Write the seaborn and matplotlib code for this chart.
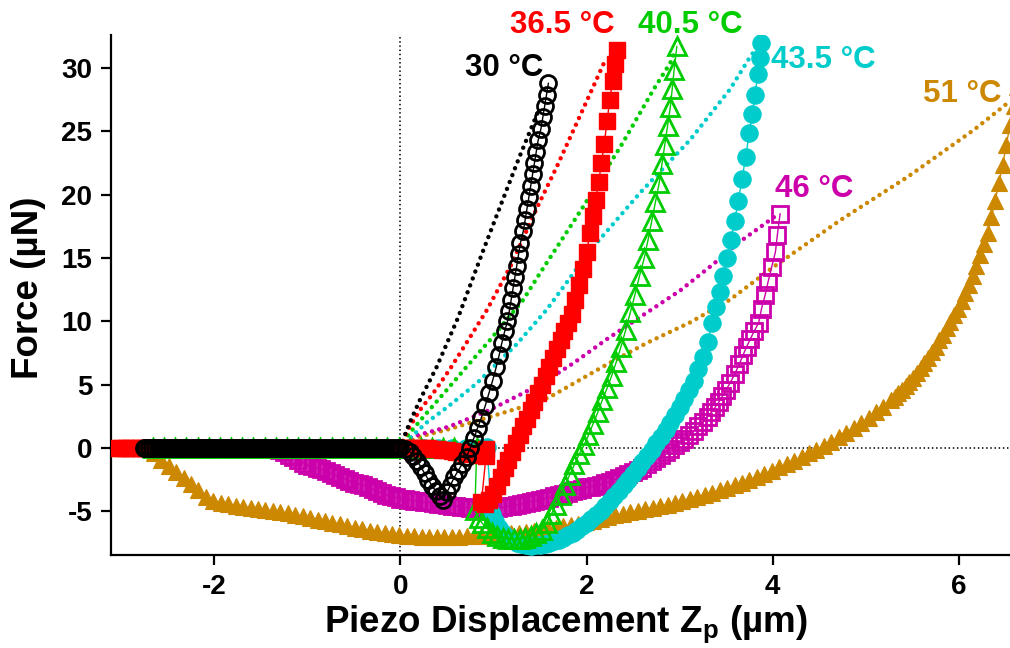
import matplotlib
matplotlib.use("Agg")
import matplotlib.pyplot as plt
import pandas as pd
import seaborn as sns

# Retraction branches: (piezo displacement Zp in um, force in uN), in acquisition order
ret_30 = [
    (1.59, 28.8), (1.57, 27.9), (1.55, 27.0), (1.53, 26.1), (1.51, 25.2), (1.48, 24.3),
    (1.46, 23.4), (1.44, 22.5), (1.42, 21.6), (1.40, 20.7), (1.38, 19.8), (1.36, 18.9),
    (1.34, 18.0), (1.32, 17.1), (1.29, 16.2), (1.27, 15.3), (1.25, 14.4), (1.23, 13.5),
    (1.21, 12.6), (1.19, 11.7), (1.17, 10.8), (1.15, 10.0), (1.12, 9.2), (1.09, 8.3),
    (1.06, 7.3), (1.03, 6.4), (0.99, 5.3), (0.95, 4.3), (0.91, 3.3), (0.87, 2.4),
    (0.83, 1.6), (0.79, 0.8), (0.75, 0.0), (0.71, -0.7), (0.66, -1.3), (0.62, -1.8),
    (0.58, -2.3), (0.54, -2.9), (0.50, -3.5), (0.46, -4.1), (0.42, -3.8), (0.38, -3.4),
    (0.34, -3.0), (0.30, -2.5), (0.26, -2.0), (0.22, -1.5), (0.18, -1.0), (0.14, -0.6),
    (0.10, -0.3), (0.05, -0.1), (0.00, 0.0), (-0.03, 0.0), (-0.06, 0.0), (-0.09, 0.0),
    (-0.12, 0.0), (-0.15, 0.0), (-0.18, 0.0), (-0.21, 0.0), (-0.24, 0.0), (-0.27, 0.0),
    (-0.30, 0.0), (-0.33, 0.0), (-0.36, 0.0), (-0.39, 0.0), (-0.42, 0.0), (-0.45, 0.0),
    (-0.48, 0.0), (-0.51, 0.0), (-0.54, 0.0), (-0.57, 0.0), (-0.60, 0.0), (-0.63, 0.0),
    (-0.66, 0.0), (-0.69, 0.0), (-0.72, 0.0), (-0.75, 0.0), (-0.78, 0.0), (-0.81, 0.0),
    (-0.84, 0.0), (-0.87, 0.0), (-0.90, 0.0), (-0.93, 0.0), (-0.96, 0.0), (-0.99, 0.0),
    (-1.02, 0.0), (-1.05, 0.0), (-1.08, 0.0), (-1.11, 0.0), (-1.14, 0.0), (-1.17, 0.0),
    (-1.20, 0.0), (-1.23, 0.0), (-1.26, 0.0), (-1.29, 0.0), (-1.32, 0.0), (-1.35, 0.0),
    (-1.38, 0.0), (-1.41, 0.0), (-1.44, 0.0), (-1.47, 0.0), (-1.50, 0.0), (-1.53, 0.0),
    (-1.56, 0.0), (-1.59, 0.0), (-1.62, 0.0), (-1.65, 0.0), (-1.68, 0.0), (-1.71, 0.0),
    (-1.74, 0.0), (-1.77, 0.0), (-1.80, 0.0), (-1.83, 0.0), (-1.86, 0.0), (-1.89, 0.0),
    (-1.92, 0.0), (-1.95, 0.0), (-1.98, 0.0), (-2.01, 0.0), (-2.04, 0.0), (-2.07, 0.0),
    (-2.10, 0.0), (-2.13, 0.0), (-2.16, 0.0), (-2.19, 0.0), (-2.22, 0.0), (-2.25, 0.0),
    (-2.28, 0.0), (-2.31, 0.0), (-2.34, 0.0), (-2.37, 0.0), (-2.40, 0.0), (-2.43, 0.0),
    (-2.46, 0.0), (-2.49, 0.0), (-2.52, 0.0), (-2.55, 0.0), (-2.58, 0.0), (-2.61, 0.0),
    (-2.64, 0.0), (-2.67, 0.0), (-2.70, 0.0), (-2.73, 0.0), (-2.76, 0.0),
]

ret_365 = [
    (2.33, 31.4), (2.31, 30.3), (2.28, 29.0), (2.25, 27.5), (2.22, 25.8), (2.19, 24.0),
    (2.16, 22.5), (2.13, 21.0), (2.10, 19.6), (2.07, 18.3), (2.04, 17.0), (2.00, 15.5),
    (1.96, 14.1), (1.92, 12.9), (1.88, 11.7), (1.84, 10.6), (1.80, 9.9), (1.76, 9.2),
    (1.72, 8.5), (1.68, 7.8), (1.64, 7.1), (1.60, 6.4), (1.56, 5.7), (1.52, 5.0),
    (1.48, 4.3), (1.44, 3.6), (1.40, 3.0), (1.36, 2.3), (1.32, 1.7), (1.28, 1.0),
    (1.24, 0.4), (1.20, -0.3), (1.16, -0.95), (1.12, -1.6), (1.08, -2.3), (1.04, -3.0),
    (1.00, -3.6), (0.95, -4.1), (0.91, -4.4), (0.87, -4.3), (0.92, -0.6), (0.92, -0.1),
    (0.89, -0.5), (0.85, -0.55), (0.80, -0.5), (0.75, -0.45), (0.70, -0.4), (0.65, -0.35),
    (0.60, -0.3), (0.55, -0.25), (0.50, -0.2), (0.45, -0.15), (0.40, -0.1), (0.35, -0.05),
    (0.30, 0.0), (0.25, 0.0), (0.20, 0.0), (0.15, 0.0), (0.10, 0.0), (0.05, 0.0),
    (0.00, 0.0), (-0.10, 0.0), (-0.20, 0.0), (-0.30, 0.0), (-0.40, 0.0), (-0.50, 0.0),
    (-0.60, 0.0), (-0.70, 0.0), (-0.80, 0.0), (-0.90, 0.0), (-1.00, 0.0), (-1.10, 0.0),
    (-1.20, 0.0), (-1.30, 0.0), (-1.40, 0.0), (-1.50, 0.0), (-1.60, 0.0), (-1.70, 0.0),
    (-1.80, 0.0), (-1.90, 0.0), (-2.00, 0.0), (-2.10, 0.0), (-2.20, 0.0), (-2.30, 0.0),
    (-2.40, 0.0), (-2.50, 0.0), (-2.60, 0.0), (-2.70, 0.0), (-2.75, 0.0), (-2.80, 0.0),
    (-2.85, 0.0), (-2.90, 0.0), (-2.95, 0.0), (-3.00, 0.0), (-3.04, 0.0),
]

ret_405 = [
    (2.97, 31.7), (2.94, 29.8), (2.92, 28.3), (2.90, 26.9), (2.87, 25.4), (2.84, 23.9),
    (2.81, 22.4), (2.78, 20.9), (2.74, 19.4), (2.70, 17.9), (2.66, 16.4), (2.62, 15.0),
    (2.57, 13.6), (2.52, 12.1), (2.47, 10.7), (2.42, 9.3), (2.37, 8.0), (2.32, 6.8),
    (2.27, 5.7), (2.22, 4.7), (2.17, 3.8), (2.12, 2.8), (2.07, 1.9), (2.02, 1.0),
    (1.97, 0.2), (1.92, -0.5), (1.87, -1.3), (1.82, -2.1), (1.77, -2.9), (1.72, -3.7),
    (1.67, -4.5), (1.62, -5.25), (1.57, -5.9), (1.52, -6.45), (1.46, -6.75), (1.40, -6.95),
    (1.34, -7.1), (1.28, -7.15), (1.22, -7.2), (1.16, -7.2), (1.10, -7.1), (1.04, -6.95),
    (0.98, -6.7), (0.93, -6.35), (0.88, -5.95), (0.84, -5.5), (0.80, -4.9), (0.82, 0.0),
    (0.70, 0.0), (0.58, 0.0), (0.46, 0.0), (0.34, 0.0), (0.22, 0.0), (0.10, 0.0),
    (-0.02, 0.0), (-0.14, 0.0), (-0.26, 0.0), (-0.38, 0.0), (-0.50, 0.0), (-0.62, 0.0),
    (-0.74, 0.0), (-0.86, 0.0), (-0.98, 0.0), (-1.10, 0.0), (-1.22, 0.0), (-1.34, 0.0),
    (-1.46, 0.0), (-1.58, 0.0), (-1.70, 0.0), (-1.82, 0.0), (-1.94, 0.0), (-2.06, 0.0),
    (-2.18, 0.0), (-2.30, 0.0), (-2.42, 0.0), (-2.54, 0.0), (-2.66, 0.0),
]

ret_435 = [
    (3.87, 32.0), (3.86, 30.8), (3.84, 29.5), (3.81, 27.9), (3.78, 26.4), (3.75, 24.9),
    (3.71, 23.0), (3.67, 21.2), (3.63, 19.5), (3.59, 17.9), (3.55, 16.4), (3.51, 15.0),
    (3.47, 13.6), (3.43, 12.3), (3.39, 11.1), (3.35, 9.9), (3.30, 8.4), (3.25, 7.2),
    (3.20, 6.2), (3.15, 5.3), (3.10, 4.55), (3.05, 3.85), (3.00, 3.2), (2.95, 2.6),
    (2.90, 2.0), (2.85, 1.45), (2.80, 0.9), (2.75, 0.38), (2.70, -0.13), (2.65, -0.63),
    (2.60, -1.12), (2.55, -1.6), (2.50, -2.05), (2.45, -2.5), (2.40, -2.95), (2.35, -3.38),
    (2.30, -3.8), (2.25, -4.2), (2.20, -4.58), (2.15, -4.94), (2.10, -5.28), (2.05, -5.6),
    (2.00, -5.9), (1.95, -6.18), (1.90, -6.44), (1.85, -6.68), (1.80, -6.9), (1.75, -7.08),
    (1.70, -7.24), (1.65, -7.38), (1.60, -7.5), (1.55, -7.6), (1.50, -7.66), (1.45, -7.7),
    (1.40, -7.72), (1.35, -7.7), (1.30, -7.62), (1.25, -7.5), (1.20, -7.3), (1.15, -7.05),
    (1.10, -6.7), (1.06, -6.3), (1.02, -5.8), (0.98, -5.2), (0.93, 0.1), (0.85, 0.0),
    (0.70, 0.0), (0.55, 0.0), (0.40, 0.0), (0.25, 0.0), (0.10, 0.0), (-0.05, 0.0),
    (-0.20, 0.0), (-0.35, 0.0), (-0.50, 0.0), (-0.65, 0.0), (-0.80, 0.0), (-0.95, 0.0),
    (-1.10, 0.0), (-1.25, 0.0), (-1.40, 0.0), (-1.55, 0.0), (-1.70, 0.0), (-1.85, 0.0),
    (-2.00, 0.0), (-2.15, 0.0), (-2.30, 0.0), (-2.45, 0.0), (-2.60, 0.0),
]

ret_46 = [
    (4.08, 18.5), (4.05, 16.8), (4.03, 15.5), (3.99, 14.3), (3.95, 13.1), (3.92, 12.1),
    (3.88, 11.0), (3.85, 9.9), (3.80, 9.2), (3.76, 8.6), (3.72, 8.0), (3.68, 7.3),
    (3.64, 6.6), (3.59, 5.8), (3.54, 5.1), (3.50, 4.6), (3.46, 4.1), (3.42, 3.6),
    (3.38, 3.2), (3.34, 2.8), (3.30, 2.45), (3.25, 2.05), (3.20, 1.7), (3.15, 1.35),
    (3.10, 1.0), (3.05, 0.7), (3.00, 0.45), (2.95, 0.2), (2.90, -0.05), (2.85, -0.3),
    (2.80, -0.55), (2.75, -0.8), (2.70, -1.05), (2.65, -1.3), (2.60, -1.55), (2.55, -1.75),
    (2.50, -1.9), (2.45, -2.05), (2.40, -2.2), (2.35, -2.35), (2.30, -2.5), (2.25, -2.65),
    (2.20, -2.8), (2.15, -2.9), (2.10, -2.98), (2.05, -3.05), (2.00, -3.12), (1.95, -3.22),
    (1.90, -3.32), (1.85, -3.42), (1.80, -3.52), (1.75, -3.62), (1.70, -3.72), (1.65, -3.82),
    (1.60, -3.92), (1.55, -4.0), (1.50, -4.1), (1.45, -4.18), (1.40, -4.27), (1.35, -4.35),
    (1.30, -4.42), (1.25, -4.5), (1.20, -4.55), (1.15, -4.62), (1.10, -4.68), (1.05, -4.72),
    (1.00, -4.75), (0.95, -4.78), (0.90, -4.78), (0.85, -4.77), (0.80, -4.75), (0.75, -4.72),
    (0.70, -4.7), (0.65, -4.65), (0.60, -4.6), (0.55, -4.55), (0.50, -4.5), (0.45, -4.45),
    (0.40, -4.4), (0.35, -4.35), (0.30, -4.3), (0.25, -4.25), (0.20, -4.2), (0.15, -4.15),
    (0.10, -4.1), (0.05, -4.05), (0.00, -4.0), (-0.05, -3.9), (-0.10, -3.8), (-0.15, -3.68),
    (-0.20, -3.55), (-0.25, -3.4), (-0.30, -3.25), (-0.35, -3.1), (-0.40, -2.95), (-0.45, -2.85),
    (-0.50, -2.75), (-0.55, -2.6), (-0.60, -2.45), (-0.65, -2.3), (-0.70, -2.15), (-0.75, -2.0),
    (-0.80, -1.85), (-0.85, -1.7), (-0.90, -1.55), (-0.95, -1.45), (-1.00, -1.35), (-1.05, -1.15),
    (-1.10, -0.95), (-1.15, -0.75), (-1.20, -0.55), (-1.25, -0.35), (-1.30, -0.15), (-1.40, 0.0),
    (-1.55, 0.0), (-1.70, 0.0), (-1.85, 0.0), (-2.00, 0.0), (-2.15, 0.0), (-2.30, 0.0),
    (-2.45, 0.0), (-2.60, 0.0),
]

ret_51 = [
    (6.63, 28.5), (6.59, 27.0), (6.55, 25.5), (6.51, 23.9), (6.47, 22.3), (6.43, 20.9),
    (6.39, 19.5), (6.35, 18.2), (6.31, 17.0), (6.27, 16.1), (6.23, 15.2), (6.19, 14.4),
    (6.15, 13.6), (6.11, 12.9), (6.07, 12.2), (6.03, 11.6), (5.99, 11.0), (5.95, 10.5),
    (5.91, 9.95), (5.87, 9.45), (5.83, 8.95), (5.79, 8.5), (5.75, 8.0), (5.71, 7.55),
    (5.67, 7.1), (5.63, 6.7), (5.59, 6.3), (5.55, 5.9), (5.51, 5.55), (5.47, 5.2),
    (5.43, 4.9), (5.39, 4.6), (5.35, 4.3), (5.31, 4.0), (5.27, 3.75), (5.19, 3.26),
    (5.11, 2.8), (5.03, 2.37), (4.95, 1.96), (4.87, 1.57), (4.79, 1.2), (4.71, 0.84),
    (4.63, 0.5), (4.55, 0.17), (4.47, -0.13), (4.39, -0.43), (4.31, -0.72), (4.23, -1.0),
    (4.15, -1.28), (4.07, -1.54), (3.99, -1.8), (3.91, -2.06), (3.83, -2.3), (3.75, -2.53),
    (3.67, -2.75), (3.59, -2.95), (3.51, -3.15), (3.43, -3.35), (3.35, -3.54), (3.27, -3.72),
    (3.19, -3.9), (3.11, -4.06), (3.03, -4.22), (2.95, -4.36), (2.87, -4.48), (2.79, -4.6),
    (2.71, -4.72), (2.63, -4.84), (2.55, -4.96), (2.47, -5.08), (2.39, -5.2), (2.31, -5.33),
    (2.23, -5.46), (2.15, -5.6), (2.07, -5.74), (1.99, -5.86), (1.91, -5.98), (1.83, -6.1),
    (1.75, -6.2), (1.67, -6.3), (1.59, -6.4), (1.51, -6.48), (1.43, -6.56), (1.35, -6.62),
    (1.27, -6.68), (1.19, -6.74), (1.11, -6.8), (1.03, -6.86), (0.95, -6.9), (0.87, -6.93),
    (0.79, -6.96), (0.71, -6.98), (0.63, -7.0), (0.55, -7.02), (0.47, -7.03), (0.39, -7.03),
    (0.31, -7.02), (0.23, -7.0), (0.15, -6.97), (0.07, -6.93), (-0.01, -6.88), (-0.09, -6.8),
    (-0.17, -6.72), (-0.25, -6.62), (-0.33, -6.52), (-0.41, -6.4), (-0.49, -6.28), (-0.57, -6.15),
    (-0.65, -6.02), (-0.73, -5.9), (-0.81, -5.78), (-0.89, -5.65), (-0.97, -5.52), (-1.05, -5.4),
    (-1.13, -5.28), (-1.21, -5.17), (-1.29, -5.07), (-1.37, -4.97), (-1.45, -4.88), (-1.53, -4.8),
    (-1.61, -4.72), (-1.69, -4.65), (-1.77, -4.55), (-1.85, -4.45), (-1.93, -4.35), (-2.01, -4.15),
    (-2.09, -3.85), (-2.17, -3.35), (-2.25, -2.85), (-2.33, -2.4), (-2.41, -1.9), (-2.49, -1.45),
    (-2.57, -0.95), (-2.65, -0.4), (-2.73, 0.0), (-2.81, 0.0), (-2.89, 0.0), (-2.97, 0.0),
    (-3.05, 0.0),
]

# Loading branches (dotted), from contact to maximum force
load_30 = [(0.0, 0.0), (0.03, 0.7), (0.10, 2.0), (0.21, 3.8), (0.39, 6.4), (0.62, 10.3),
           (0.89, 15.6), (1.10, 19.6), (1.28, 23.0), (1.47, 26.4)]
load_365 = [(0.0, 0.0), (0.07, 1.3), (0.21, 3.0), (0.35, 4.3), (0.53, 6.2), (0.71, 8.3),
            (0.93, 10.9), (1.18, 14.3), (1.47, 19.0), (1.68, 22.2), (1.86, 25.1),
            (2.04, 28.0), (2.20, 30.6)]
load_405 = [(0.0, 0.0), (0.08, 1.0), (0.24, 2.4), (0.50, 4.6), (0.71, 6.4), (0.96, 8.5),
            (1.32, 11.7), (1.50, 13.8), (1.96, 19.0), (2.39, 24.1), (2.72, 28.3),
            (2.90, 30.4), (2.95, 31.3)]
load_435 = [(0.0, 0.0), (0.05, 0.45), (0.12, 0.9), (0.28, 2.0), (0.50, 3.2), (0.82, 5.1),
            (1.25, 8.2), (1.57, 10.9), (2.04, 15.6), (2.57, 20.1), (3.11, 24.3),
            (3.54, 28.3), (3.76, 30.9), (3.85, 31.8)]
load_46 = [(0.0, 0.0), (0.05, 0.45), (0.13, 0.9), (0.53, 1.7), (0.96, 3.0), (1.50, 5.0),
           (1.86, 6.7), (2.22, 8.6), (2.61, 10.5), (3.00, 12.4), (3.36, 14.5),
           (3.65, 16.3), (4.01, 18.2), (4.06, 18.4)]
load_51 = [(0.0, 0.0), (0.10, 0.5), (0.21, 0.9), (0.53, 1.5), (0.89, 2.3), (1.25, 3.1),
           (1.60, 4.0), (2.22, 6.6), (2.65, 8.3), (3.11, 9.9), (3.54, 11.7), (4.01, 14.3),
           (4.73, 18.0), (5.45, 21.4), (6.16, 25.1), (6.52, 27.2), (6.70, 28.3)]

temperatures = ["30 °C", "36.5 °C", "40.5 °C", "43.5 °C", "46 °C", "51 °C"]
colors = ["#000000", "#FF0000", "#00CC00", "#00CCCC", "#CC00AA", "#CC8800"]
retraction = [ret_30, ret_365, ret_405, ret_435, ret_46, ret_51]
loading = [load_30, load_365, load_405, load_435, load_46, load_51]
label_pos = [(1.12, 29.4), (1.74, 32.75), (3.11, 32.75), (4.54, 30.0), (4.45, 19.8), (6.04, 27.3)]

# marker, size (pt), filled, edge width, draw order
styles = [
    ("o", 11.5, False, 2.0, 16),
    ("s", 12.0, True, 1.0, 15),
    ("^", 12.5, False, 2.0, 14),
    ("o", 12.5, True, 0.8, 13),
    ("s", 11.5, False, 2.0, 12),
    ("^", 12.0, True, 0.8, 11),
]

sns.set_theme(style="ticks")
plt.rcParams.update({
    "font.family": ["Liberation Sans", "DejaVu Sans"],
    "font.weight": "bold",
    "axes.labelweight": "bold",
    "axes.unicode_minus": False,
    "mathtext.fontset": "custom",
    "mathtext.rm": "Liberation Sans:bold",
    "mathtext.it": "Liberation Sans:bold:italic",
    "mathtext.bf": "Liberation Sans:bold",
})

fig = plt.figure(figsize=(10.1, 6.48), dpi=100)
ax = fig.add_axes([111 / 1010, 93 / 648, 899 / 1010, 520 / 648])

# zero-force and contact reference lines
ref_dots = (0, (0.01, 2.3))
ax.axvline(0, color="black", lw=1.3, linestyle=ref_dots, dash_capstyle="round", zorder=1)
ax.axhline(0, color="black", lw=1.3, linestyle=ref_dots, dash_capstyle="round", zorder=1)

# loading branches as dotted lines
for i in range(len(temperatures)):
    df_load = pd.DataFrame(loading[i], columns=["z", "F"])
    sns.lineplot(data=df_load, x="z", y="F", ax=ax, sort=False, estimator=None,
                 color=colors[i], lw=3.2, linestyle=(0, (0.01, 1.65)),
                 dash_capstyle="round", zorder=3 + (5 - i) * 0.1)

# retraction branches with markers
for i in range(len(temperatures)):
    mk, ms, filled, mew, z = styles[i]
    df_ret = pd.DataFrame(retraction[i], columns=["z", "F"])
    sns.lineplot(data=df_ret, x="z", y="F", ax=ax, sort=False, estimator=None,
                 color=colors[i], lw=1.0, marker=mk, markersize=ms,
                 markerfacecolor=colors[i] if filled else "none",
                 markeredgecolor=colors[i], markeredgewidth=mew, zorder=z)

for i, name in enumerate(temperatures):
    x, y = label_pos[i]
    ax.text(x, y, name, color=colors[i], fontsize=22.5, fontweight="bold",
            ha="center", va="baseline", zorder=30, clip_on=False)

ax.set_xlim(-3.11, 6.55)
ax.set_ylim(-8.45, 32.6)
ax.set_xticks([-2, 0, 2, 4, 6])
ax.set_yticks([-5, 0, 5, 10, 15, 20, 25, 30])

sns.despine(ax=ax)
for side in ["left", "bottom"]:
    ax.spines[side].set_color("black")
    ax.spines[side].set_linewidth(1.6)
ax.tick_params(axis="both", direction="out", length=7.5, width=1.6, pad=6,
               labelsize=20, colors="black")
for lbl in ax.get_xticklabels() + ax.get_yticklabels():
    lbl.set_fontweight("bold")

ax.set_xlabel(r"Piezo Displacement $\mathrm{Z}_\mathrm{p}$ (µm)", fontsize=26.5,
              fontweight="bold", color="black")
ax.set_ylabel("Force (µN)", fontsize=26.5, fontweight="bold", color="black")
ax.xaxis.set_label_coords(0.506, -0.093)
ax.yaxis.set_label_coords(-0.072, 0.513)

fig.savefig("out.png", dpi=100)
